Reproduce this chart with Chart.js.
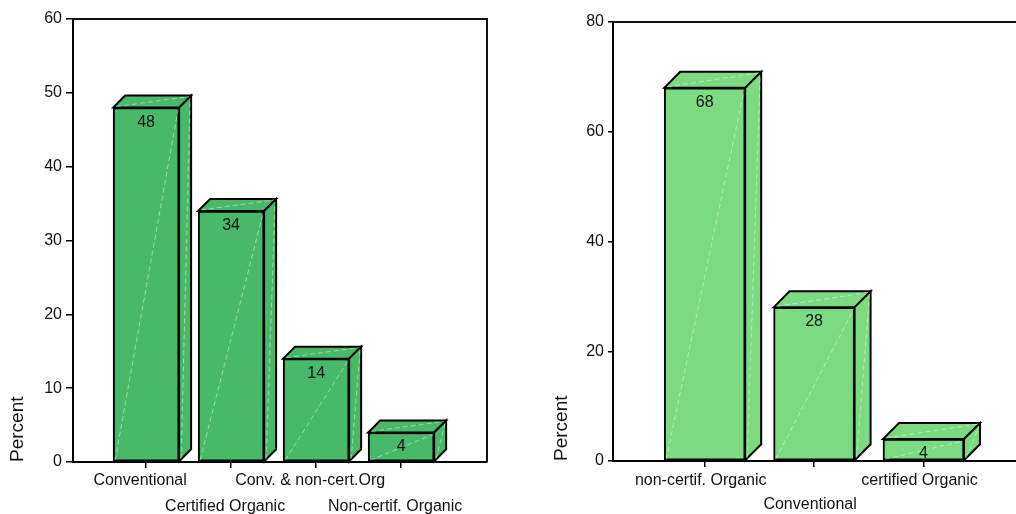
<!DOCTYPE html>
<html>
<head>
<meta charset="utf-8">
<script src="https://cdn.jsdelivr.net/npm/chart.js@4/dist/chart.umd.min.js"></script>
<style>
  html, body { margin: 0; padding: 0; width: 1016px; height: 514px; overflow: hidden; background: #fff; }
  #left  { position: absolute; left: 0;     top: 0; }
  #right { position: absolute; left: 540px; top: 0; }
</style>
</head>
<body>
<canvas id="left" width="500" height="514"></canvas>
<canvas id="right" width="507" height="514"></canvas>
<script>
// Farm type shares (left panel)
const farmTypes = ['Conventional', 'Certified Organic', 'Conv. & non-cert.Org', 'Non-certif. Organic'];
const farmPercent = [48, 34, 14, 4];
const farmTicks = [0, 10, 20, 30, 40, 50, 60];

// Second group shares (right panel)
const groupTypes = ['non-certif. Organic', 'Conventional', 'certified Organic'];
const groupPercent = [68, 28, 4];
const groupTicks = [0, 20, 40, 60, 80];

const FONT = '"Liberation Sans", Arial, Helvetica, sans-serif';
Chart.defaults.font.family = FONT;
Chart.defaults.color = '#111';

// Draws the top and side faces of each bar, faint highlight diagonals and the value label
const box3d = {
  id: 'box3d',
  afterDatasetsDraw(chart, args, opts) {
    const ctx = chart.ctx;
    const d = opts.depth;
    const meta = chart.getDatasetMeta(0);
    const data = chart.data.datasets[0].data;
    meta.data.forEach((bar, i) => {
      const { x, y, base, width } = bar.getProps(['x', 'y', 'base', 'width'], true);
      const x0 = x - width / 2, x1 = x + width / 2;
      ctx.save();
      ctx.fillStyle = opts.color;
      ctx.strokeStyle = '#000';
      ctx.lineWidth = 2;
      ctx.lineJoin = 'miter';
      // top face
      ctx.beginPath();
      ctx.moveTo(x0, y); ctx.lineTo(x0 + d, y - d); ctx.lineTo(x1 + d, y - d); ctx.lineTo(x1, y);
      ctx.closePath(); ctx.fill(); ctx.stroke();
      // side face
      ctx.beginPath();
      ctx.moveTo(x1, y); ctx.lineTo(x1 + d, y - d); ctx.lineTo(x1 + d, base - d); ctx.lineTo(x1, base);
      ctx.closePath(); ctx.fill(); ctx.stroke();
      // faint highlight diagonals
      ctx.strokeStyle = 'rgba(255,255,255,0.45)';
      ctx.lineWidth = 1;
      ctx.setLineDash([5, 3]);
      ctx.beginPath();
      ctx.moveTo(x0 + 2, base - 1); ctx.lineTo(x1 - 1, y + 2);
      ctx.moveTo(x0 + 3, y - 1); ctx.lineTo(x1 + d - 2, y - d + 1);
      ctx.moveTo(x1 + 2, base - 2); ctx.lineTo(x1 + d - 1, y - d + 3);
      ctx.stroke();
      ctx.setLineDash([]);
      // value label
      ctx.fillStyle = '#111';
      ctx.font = '16px ' + FONT;
      ctx.textAlign = 'center';
      ctx.textBaseline = 'middle';
      ctx.fillText(String(data[i].y), x, y + 14.5);
      ctx.restore();
    });
  }
};

// Closes the plot frame along the top and right edges
const frame = {
  id: 'frame',
  afterDraw(chart) {
    const { ctx, chartArea: a } = chart;
    ctx.save();
    ctx.strokeStyle = '#111';
    ctx.lineWidth = 2;
    ctx.beginPath();
    ctx.moveTo(a.left, a.top); ctx.lineTo(a.right, a.top); ctx.lineTo(a.right, a.bottom);
    ctx.stroke();
    ctx.restore();
  }
};

function makeChart(id, cfg) {
  const points = cfg.values.map((v, i) => ({ x: i, y: v }));
  return new Chart(document.getElementById(id), {
    type: 'bar',
    data: {
      datasets: [{
        data: points,
        backgroundColor: cfg.color,
        borderColor: '#000',
        borderWidth: 2,
        borderSkipped: false,
        barThickness: cfg.barWidth
      }]
    },
    options: {
      responsive: false,
      animation: false,
      events: [],
      layout: { padding: cfg.padding },
      plugins: {
        legend: { display: false },
        tooltip: { enabled: false },
        box3d: { depth: cfg.depth, color: cfg.color }
      },
      scales: {
        x: {
          type: 'linear',
          offset: false,
          min: cfg.xMin,
          max: cfg.xMax,
          afterBuildTicks: s => { s.ticks = cfg.labels.map((_, i) => ({ value: i })); },
          afterFit: s => { s.height = cfg.xHeight; },
          border: { display: true, color: '#000', width: 2 },
          grid: { offset: false, drawOnChartArea: false, tickLength: 6, color: '#000', lineWidth: 1.5 },
          ticks: {
            autoSkip: false, maxRotation: 0, minRotation: 0,
            padding: cfg.xPad,
            labelOffset: cfg.labelShift,
            color: '#111',
            font: { size: 16, lineHeight: cfg.rowGap },
            callback: (v, i) => (i % 2 ? ['', cfg.labels[i]] : cfg.labels[i])
          }
        },
        y: {
          min: 0,
          max: cfg.yTicks[cfg.yTicks.length - 1],
          afterBuildTicks: s => { s.ticks = cfg.yTicks.map(v => ({ value: v })); },
          afterFit: s => { s.width = 73; },
          border: { display: true, color: '#000', width: 2 },
          grid: { drawOnChartArea: false, tickLength: cfg.yTickLen, color: '#000', lineWidth: 1.5 },
          ticks: { padding: 4, color: '#111', font: { size: 16 } },
          title: {
            display: true, text: 'Percent', align: 'start', color: '#111',
            font: { size: 19 }, padding: { top: cfg.titlePad, bottom: 0 }
          }
        }
      }
    },
    plugins: [box3d, frame]
  });
}

makeChart('left', {
  labels: farmTypes, values: farmPercent, yTicks: farmTicks,
  color: '#48b968', barWidth: 66, depth: 12,
  xMin: -0.86, xMax: 4.01,
  padding: { left: 0, top: 19, right: 13, bottom: 0 },
  xHeight: 52, xPad: 0, rowGap: '26px', yTickLen: 7, titlePad: 6.3, labelShift: -6
});

makeChart('right', {
  labels: groupTypes, values: groupPercent, yTicks: groupTicks,
  color: '#7cdb80', barWidth: 81, depth: 16,
  xMin: -0.838, xMax: 3.01,
  padding: { left: 0, top: 22, right: 13, bottom: 0 },
  xHeight: 53, xPad: 2, rowGap: '24px', yTickLen: 5, titlePad: 10.6, labelShift: -4
});
</script>
</body>
</html>
